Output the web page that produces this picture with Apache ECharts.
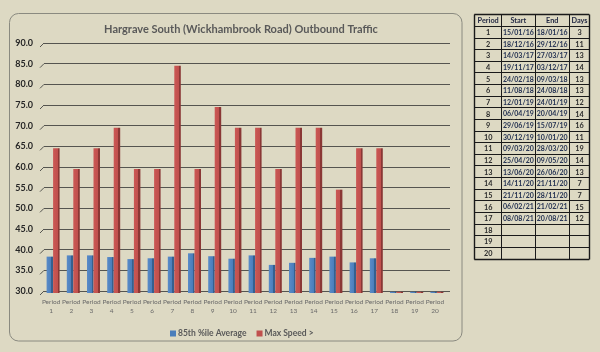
<!DOCTYPE html>
<html>
<head>
<meta charset="utf-8">
<script src="https://cdn.jsdelivr.net/npm/echarts@6/dist/echarts.min.js"></script>
<style>
html,body{margin:0;padding:0;background:#ddd9c3;}
#chart{width:600px;height:352px;}
</style>
</head>
<body>
<div id="chart"></div>
<script>
// ---- Data ----
const categories = ['Period\n1','Period\n2','Period\n3','Period\n4','Period\n5','Period\n6','Period\n7','Period\n8','Period\n9','Period\n10','Period\n11','Period\n12','Period\n13','Period\n14','Period\n15','Period\n16','Period\n17','Period\n18','Period\n19','Period\n20'];
const avg85 = [38.8, 39.1, 39.1, 38.7, 38.2, 38.4, 38.8, 39.6, 38.9, 38.3, 39.1, 36.8, 37.3, 38.5, 38.8, 37.4, 38.4, 30.3, 30.3, 30.3];
const maxSpeed = [65, 60, 65, 70, 60, 60, 85, 60, 75, 70, 70, 60, 70, 70, 55, 65, 65, 30.3, 30.3, 30.3];
const yTicks = [30, 35, 40, 45, 50, 55, 60, 65, 70, 75, 80, 85, 90];
const title = 'Hargrave South (Wickhambrook Road) Outbound Traffic';
const seriesNames = ['85th %ile Average', 'Max Speed >'];

const tableHeader = ['Period', 'Start', 'End', 'Days'];
const tablePeriods = ['1','2','3','4','5','6','7','8','9','10','11','12','13','14','15','16','17','18','19','20'];
const tableStarts = ['15/01/16','18/12/16','14/03/17','19/11/17','24/02/18','11/08/18','12/01/19','06/04/19','29/06/19','30/12/19','09/03/20','25/04/20','13/06/20','14/11/20','21/11/20','06/02/21','08/08/21','','',''];
const tableEnds = ['18/01/16','29/12/16','27/03/17','03/12/17','09/03/18','24/08/18','24/01/19','20/04/19','15/07/19','10/01/20','28/03/20','09/05/20','26/06/20','21/11/20','28/11/20','21/02/21','20/08/21','','',''];
const tableDays = ['3','11','13','14','13','13','12','14','16','11','19','14','13','7','7','15','12','','',''];

// ---- Layout ----
const FONT = 'Lato, "Open Sans", sans-serif';
const colX = [474.3, 501, 534.7, 568.7, 589.3];
const rowTop = 14.3, rowH = 11.63, nRows = 21;

const graphics = [];
// chart frame
graphics.push({type:'rect', shape:{x:9.5, y:13.5, width:452.5, height:327.5, r:9}, style:{fill:'none', stroke:'#8a8a80', lineWidth:1}, z:-1});
// table lines
const tableBottom = rowTop + nRows*rowH;
for (let r = 0; r <= nRows; r++) {
  const y = Math.round(rowTop + r*rowH) + 0.5;
  graphics.push({type:'line', shape:{x1:colX[0], y1:y, x2:colX[4], y2:y}, style:{stroke:'#1a1a1a', lineWidth:(r===0||r===nRows)?1.4:1}});
}
colX.forEach((x, i) => {
  const xx = Math.round(x) + 0.5;
  graphics.push({type:'line', shape:{x1:xx, y1:Math.round(rowTop)+0.5, x2:xx, y2:Math.round(tableBottom)+0.5}, style:{stroke:'#1a1a1a', lineWidth:(i===0||i===4)?1.4:1}});
});
function cellText(text, col, row, color, size) {
  const cx = (colX[col] + colX[col+1]) / 2 + 0.5;
  const cy = rowTop + row*rowH + rowH/2 + 1;
  graphics.push({type:'text', x:cx, y:cy, style:{text:text, fill:color, font:'bold ' + size + 'px ' + FONT, align:'center', verticalAlign:'middle'}});
}
tableHeader.forEach((t, c) => cellText(t, c, 0, '#1f2540', 7.3));
for (let i = 0; i < tablePeriods.length; i++) {
  cellText(tablePeriods[i], 0, i+1, '#2b2b2b', 7.3);
  cellText(tableStarts[i], 1, i+1, '#1f2d4f', 7);
  cellText(tableEnds[i], 2, i+1, '#1f2d4f', 7);
  cellText(tableDays[i], 3, i+1, '#2b2b2b', 7.3);
}

function faceGradient(light, main, side) {
  return new echarts.graphic.LinearGradient(0, 0, 1, 0, [
    {offset:0, color:light}, {offset:0.7, color:main}, {offset:0.7, color:side}, {offset:1, color:side}
  ]);
}

const chart = echarts.init(document.getElementById('chart'), null, {renderer:'canvas'});
chart.setOption({
  backgroundColor: '#ddd9c3',
  animation: false,
  textStyle: {fontFamily: FONT},
  title: {
    text: title, left: 236, top: 19, textAlign: 'center',
    textStyle: {fontFamily: FONT, fontSize: 11, fontWeight: 'bold', color: '#595959'}
  },
  legend: {
    left: 165, top: 324, itemWidth: 6, itemHeight: 6, itemGap: 10,
    icon: 'rect',
    textStyle: {fontFamily: FONT, fontSize: 8.5, fontWeight: 'bold', color: '#595959', padding:[0,0,0,-3]},
    data: [
      {name: seriesNames[0], itemStyle: {color: '#4a7ebb'}},
      {name: seriesNames[1], itemStyle: {color: '#c0504d'}}
    ]
  },
  grid: [
    {left: 44, right: 150, top: 43, bottom: 61},
    {left: 43, right: 153, top: 45, bottom: 59}
  ],
  xAxis: [
    {type: 'value', gridIndex: 0, min: 0, max: 1, show: false},
    {type: 'category', gridIndex: 1, data: categories,
     axisLine: {show: false}, axisTick: {show: false},
     axisLabel: {fontFamily: FONT, fontSize: 6.5, color: '#6a6a6a', lineHeight: 8.5, margin: 5, interval: 0, padding: [0, 4, 0, 0]}}
  ],
  yAxis: [
    {type: 'value', gridIndex: 0, min: 30, max: 90, interval: 5,
     axisLine: {show: false}, axisTick: {show: false},
     splitLine: {show: true, lineStyle: {color: '#555550', width: 1.2}},
     axisLabel: {fontFamily: FONT, fontSize: 9, fontWeight: 'bold', color: '#262626', margin: 11, formatter: v => v.toFixed(1)}},
    {type: 'value', gridIndex: 1, min: 30, max: 90, interval: 5, show: false}
  ],
  series: [
    {
      type: 'custom', xAxisIndex: 0, yAxisIndex: 0, silent: true,
      data: yTicks.map(v => [0, v]),
      renderItem: function (params, api) {
        const p = api.coord([0, api.value(1)]);
        return {type: 'line', shape: {x1: p[0]-4, y1: p[1]+4, x2: p[0], y2: p[1]}, style: {stroke: '#555550', lineWidth: 1}};
      }
    },
    {
      name: seriesNames[0], type: 'bar', xAxisIndex: 1, yAxisIndex: 1,
      data: avg85, barWidth: 6.5, barGap: '0%',
      itemStyle: {color: faceGradient('#5a8bc8', '#4a7ebb', '#35608f')}
    },
    {
      name: seriesNames[1], type: 'bar', xAxisIndex: 1, yAxisIndex: 1,
      data: maxSpeed, barWidth: 6.5, barGap: '0%',
      itemStyle: {color: faceGradient('#cb5754', '#c0504d', '#8a3735')}
    }
  ],
  graphic: graphics
});
</script>
</body>
</html>
